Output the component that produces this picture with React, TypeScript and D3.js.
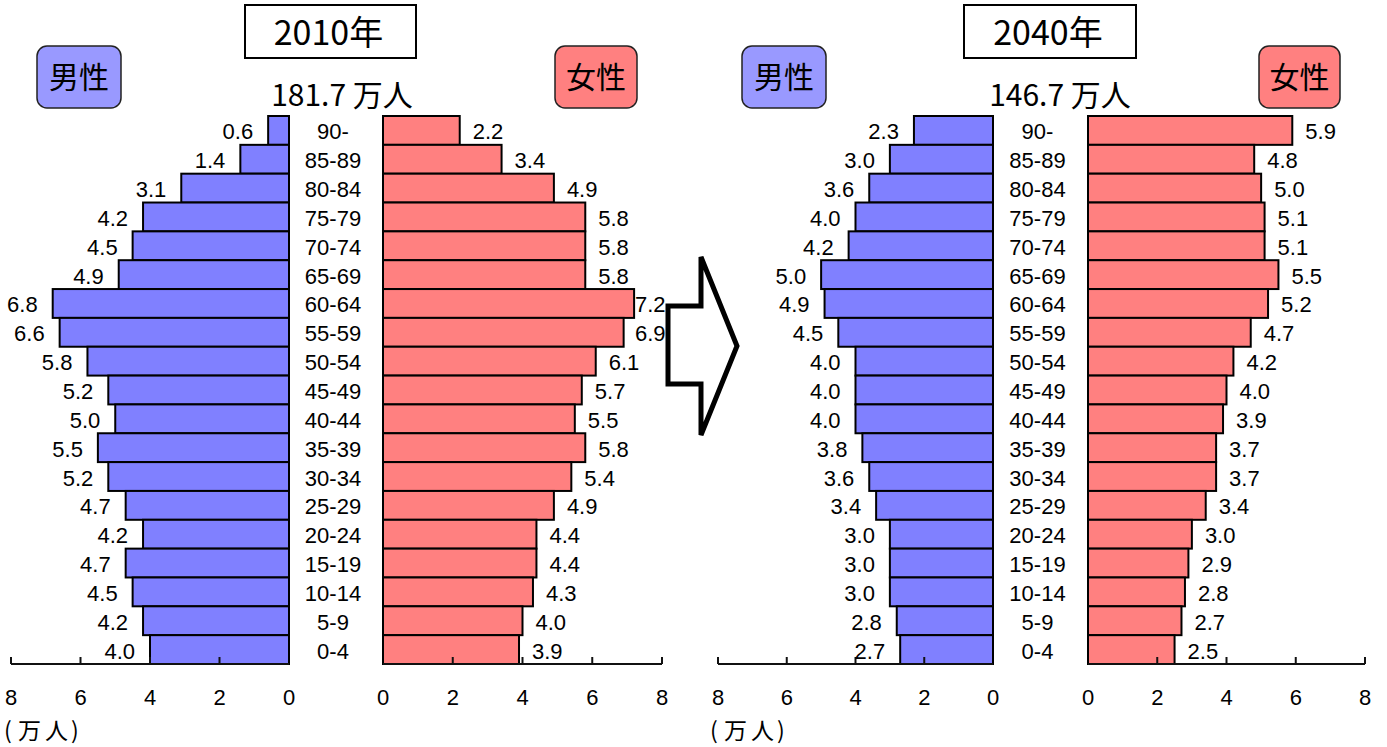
import React from "react";
import * as d3 from "d3";

const categories = ["90-", "85-89", "80-84", "75-79", "70-74", "65-69", "60-64", "55-59", "50-54", "45-49", "40-44", "35-39", "30-34", "25-29", "20-24", "15-19", "10-14", "5-9", "0-4"];
const male2010 = [0.6, 1.4, 3.1, 4.2, 4.5, 4.9, 6.8, 6.6, 5.8, 5.2, 5.0, 5.5, 5.2, 4.7, 4.2, 4.7, 4.5, 4.2, 4.0];
const female2010 = [2.2, 3.4, 4.9, 5.8, 5.8, 5.8, 7.2, 6.9, 6.1, 5.7, 5.5, 5.8, 5.4, 4.9, 4.4, 4.4, 4.3, 4.0, 3.9];
const male2040 = [2.3, 3.0, 3.6, 4.0, 4.2, 5.0, 4.9, 4.5, 4.0, 4.0, 4.0, 3.8, 3.6, 3.4, 3.0, 3.0, 3.0, 2.8, 2.7];
const female2040 = [5.9, 4.8, 5.0, 5.1, 5.1, 5.5, 5.2, 4.7, 4.2, 4.0, 3.9, 3.7, 3.7, 3.4, 3.0, 2.9, 2.8, 2.7, 2.5];
const years = ["2010年", "2040年"];
const totals = ["181.7 万人", "146.7 万人"];
const axisMax = 8;
const tickValues = [0, 2, 4, 6, 8];

const MALE = "#8080ff";
const FEMALE = "#ff8080";
const NUM_FONT = "'Liberation Sans', Arial, sans-serif";
const JP_FONT = "'Noto Sans CJK JP', sans-serif";

const yScale = d3.scaleBand<string>().domain(categories).range([116, 664]).paddingInner(0).paddingOuter(0);
const AXIS_Y = 664;

type PanelProps = {
  male: number[];
  female: number[];
  year: string;
  total: string;
  totalX: number;
  maleRange: [number, number];
  femaleRange: [number, number];
  titleBox: [number, number];
  maleBox: [number, number];
  femaleBox: [number, number];
  femaleLabelLimit: number;
  unitX: number;
};

function Panel(p: PanelProps) {
  const xm = d3.scaleLinear().domain([0, axisMax]).range(p.maleRange);
  const xf = d3.scaleLinear().domain([0, axisMax]).range(p.femaleRange);
  const bw = yScale.bandwidth();
  const mid = (p.maleRange[0] + p.femaleRange[0]) / 2 - 3;
  const titleMid = (p.titleBox[0] + p.titleBox[1]) / 2;
  const ux = [p.unitX, p.unitX + 14, p.unitX + 41, p.unitX + 67].join(" ");
  return (
    <g>
      {/* title box */}
      <rect x={p.titleBox[0]} y={5} width={p.titleBox[1] - p.titleBox[0]} height={53} fill="#fff" stroke="#000" strokeWidth={2} />
      <text x={titleMid - 2} y={45} textAnchor="middle" fontFamily={JP_FONT} fontSize={34} fill="#000">{p.year}</text>
      {/* total */}
      <text x={p.totalX} y={106} textAnchor="middle" fontFamily={JP_FONT} fontSize={30} fill="#000">{p.total}</text>
      {/* legend boxes */}
      <rect x={p.maleBox[0]} y={46} width={p.maleBox[1] - p.maleBox[0]} height={62} rx={10} fill="#9999ff" stroke="#222" strokeWidth={1.5} />
      <text x={(p.maleBox[0] + p.maleBox[1]) / 2} y={88} textAnchor="middle" fontFamily={JP_FONT} fontSize={30} fill="#000">男性</text>
      <rect x={p.femaleBox[0]} y={46} width={p.femaleBox[1] - p.femaleBox[0]} height={62} rx={10} fill="#ff8080" stroke="#222" strokeWidth={1.5} />
      <text x={(p.femaleBox[0] + p.femaleBox[1]) / 2} y={88} textAnchor="middle" fontFamily={JP_FONT} fontSize={30} fill="#000">女性</text>
      {/* bars */}
      {categories.map((c, i) => (
        <g key={c}>
          <rect x={xm(p.male[i])} y={yScale(c)!} width={xm(0) - xm(p.male[i])} height={bw} fill={MALE} stroke="#000" strokeWidth={2} />
          <rect x={xf(0)} y={yScale(c)!} width={xf(p.female[i]) - xf(0)} height={bw} fill={FEMALE} stroke="#000" strokeWidth={2} />
        </g>
      ))}
      {/* axes */}
      {[xm, xf].map((sc, k) => (
        <g key={k}>
          <line x1={sc(0)} x2={sc(axisMax)} y1={AXIS_Y} y2={AXIS_Y} stroke="#111" strokeWidth={2} />
          {tickValues.map((t) => (
            <g key={t}>
              {t !== 0 && <line x1={sc(t)} x2={sc(t)} y1={AXIS_Y} y2={AXIS_Y - 7} stroke="#111" strokeWidth={2} />}
              <text x={sc(t)} y={705} textAnchor="middle" fontFamily={NUM_FONT} fontSize={22} fill="#000">{t}</text>
            </g>
          ))}
        </g>
      ))}
      {/* value labels & categories */}
      {categories.map((c, i) => {
        const cy = yScale(c)! + bw / 2;
        return (
          <g key={"l" + c}>
            <text x={xm(p.male[i]) - 15} y={cy + 9} textAnchor="end" fontFamily={NUM_FONT} fontSize={22} fill="#000">{p.male[i].toFixed(1)}</text>
            <text x={Math.min(xf(p.female[i]) + 13, p.femaleLabelLimit)} y={cy + 9} textAnchor="start" fontFamily={NUM_FONT} fontSize={22} fill="#000">{p.female[i].toFixed(1)}</text>
            <text x={mid} y={cy + 9} textAnchor="middle" fontFamily={NUM_FONT} fontSize={22} fill="#000">{c}</text>
          </g>
        );
      })}
      <text x={ux} y={739} fontFamily={JP_FONT} fontSize={23} fill="#000">(万人)</text>
    </g>
  );
}

export default function App() {
  const arrow = "M668,306 L701,306 L701,257 L737,346 L701,435 L701,384 L668,384 Z";
  return (
    <div style={{ position: "absolute", left: 0, top: 0 }}>
      <svg width={1387} height={747} viewBox="0 0 1387 747" style={{ display: "block", background: "#fff" }}>
        <rect width={1387} height={747} fill="#fff" />
        <Panel
          male={male2010}
          female={female2010}
          year={years[0]}
          total={totals[0]}
          totalX={342}
          maleRange={[289, 11]}
          femaleRange={[383, 662]}
          titleBox={[245, 416]}
          maleBox={[37, 121]}
          femaleBox={[555, 637]}
          femaleLabelLimit={635}
          unitX={4}
        />
        <Panel
          male={male2040}
          female={female2040}
          year={years[1]}
          total={totals[1]}
          totalX={1060}
          maleRange={[993, 718]}
          femaleRange={[1088, 1365]}
          titleBox={[964, 1136]}
          maleBox={[742, 826]}
          femaleBox={[1259, 1340]}
          femaleLabelLimit={1400}
          unitX={710}
        />
        <path d={arrow} fill="#fff" stroke="#000" strokeWidth={5} strokeLinejoin="miter" />
      </svg>
    </div>
  );
}
